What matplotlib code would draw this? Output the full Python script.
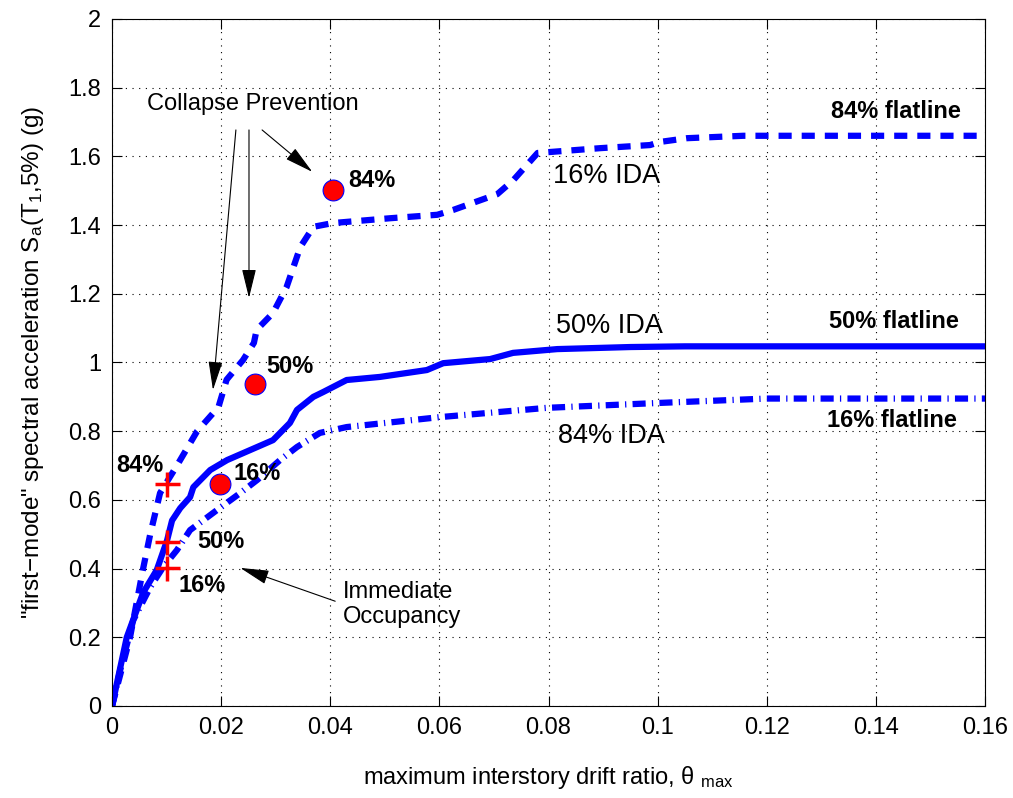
import matplotlib
matplotlib.use('Agg')
import matplotlib.pyplot as plt

plt.rcParams['font.family'] = ['Liberation Sans', 'DejaVu Sans']
plt.rcParams['mathtext.fontset'] = 'custom'
plt.rcParams['mathtext.rm'] = 'Liberation Sans'
plt.rcParams['mathtext.it'] = 'Liberation Sans'
plt.rcParams['mathtext.default'] = 'regular'

# 16% IDA (upper dashed)
x16 = [0, 0.0033, 0.0057, 0.007, 0.0088, 0.0119, 0.0156, 0.0195, 0.021, 0.024, 0.026, 0.0265,
       0.0295, 0.032, 0.0345, 0.0369, 0.0405, 0.051, 0.0596, 0.0625, 0.0706, 0.0735, 0.078,
       0.0895, 0.0986, 0.1004, 0.1054, 0.1157, 0.16]
y16 = [0, 0.2, 0.4, 0.5, 0.62, 0.7, 0.8, 0.87, 0.95, 1.007, 1.057, 1.095,
       1.144, 1.22, 1.336, 1.395, 1.406, 1.42, 1.43, 1.444, 1.49, 1.53, 1.61,
       1.624, 1.633, 1.642, 1.653, 1.66, 1.66]

# 50% IDA (solid)
x50 = [0, 0.0027, 0.0057, 0.0082, 0.0101, 0.011, 0.0125, 0.0143, 0.0149, 0.018, 0.0211,
       0.0253, 0.0295, 0.0326, 0.0339, 0.0369, 0.0387, 0.043, 0.0491, 0.0577, 0.0607,
       0.0693, 0.0735, 0.0816, 0.095, 0.105, 0.16]
y50 = [0, 0.2, 0.33, 0.396, 0.483, 0.54, 0.576, 0.608, 0.637, 0.687, 0.716,
       0.745, 0.774, 0.824, 0.862, 0.9, 0.914, 0.949, 0.958, 0.978, 0.998,
       1.01, 1.028, 1.039, 1.045, 1.047, 1.047]

# 84% IDA (dash-dot)
x84 = [0, 0.0015, 0.0039, 0.007, 0.0094, 0.0119, 0.0143, 0.0192, 0.0235, 0.0266, 0.0308,
       0.0339, 0.0381, 0.043, 0.0601, 0.0797, 0.0999, 0.12, 0.16]
y84 = [0, 0.105, 0.25, 0.346, 0.405, 0.454, 0.512, 0.57, 0.62, 0.658, 0.716,
       0.754, 0.795, 0.812, 0.841, 0.868, 0.882, 0.895, 0.895]

# collapse prevention (circles) and immediate occupancy (crosses)
cp_x = [0.0198, 0.0262, 0.0405]
cp_y = [0.645, 0.937, 1.503]
cp_lab = ['16%', '50%', '84%']
io_x = [0.01, 0.01, 0.01]
io_y = [0.402, 0.478, 0.645]
io_lab = ['16%', '50%', '84%']

xticks = [0, 0.02, 0.04, 0.06, 0.08, 0.1, 0.12, 0.14, 0.16]
xtick_lab = ['0', '0.02', '0.04', '0.06', '0.08', '0.1', '0.12', '0.14', '0.16']
yticks = [0, 0.2, 0.4, 0.6, 0.8, 1, 1.2, 1.4, 1.6, 1.8, 2]
ytick_lab = ['0', '0.2', '0.4', '0.6', '0.8', '1', '1.2', '1.4', '1.6', '1.8', '2']

fig = plt.figure(figsize=(10.13, 7.98), dpi=100)
ax = fig.add_axes([0.1106, 0.1153, 0.8618, 0.8609])

ax.plot(x16, y16, '--', color='blue', lw=4.5, dashes=(2.1, 1.6))
ax.plot(x50, y50, '-', color='blue', lw=4.5)
ax.plot(x84, y84, '-.', color='blue', lw=4.5, dashes=(2.1, 1.0, 0.2, 1.0))

ax.plot(cp_x, cp_y, 'o', ms=15, mfc='red', mec='blue', mew=0.8)
ax.plot(io_x, io_y, '+', ms=18, color='red', mew=2.5)

ax.set_xlim(0, 0.16)
ax.set_ylim(0, 2)
ax.set_xticks(xticks)
ax.set_xticklabels(xtick_lab)
ax.set_yticks(yticks)
ax.set_yticklabels(ytick_lab)
ax.tick_params(direction='in', labelsize=17, length=7, top=True, right=True, pad=8)
ax.grid(True, linestyle=(0, (1, 5)), color='black', lw=0.8)

ax.set_xlabel('maximum interstory drift ratio, θ $_{max}$', fontsize=17, labelpad=18)
ax.set_ylabel('"first−mode" spectral acceleration S$_a$(T$_1$,5%) (g)', fontsize=17.5, labelpad=16)

bold = dict(fontsize=17, fontweight='bold', va='baseline')
ax.text(0.0433, 1.511, cp_lab[2], **bold)
ax.text(0.0282, 0.969, cp_lab[1], **bold)
ax.text(0.0222, 0.658, cp_lab[0], **bold)
ax.text(0.0008, 0.681, io_lab[2], **bold)
ax.text(0.0156, 0.46, io_lab[1], **bold)
ax.text(0.0121, 0.332, io_lab[0], **bold)

ax.text(0.1556, 1.712, '84% flatline', ha='right', **bold)
ax.text(0.1552, 1.100, '50% flatline', ha='right', **bold)
ax.text(0.1549, 0.812, '16% flatline', ha='right', **bold)

ax.text(0.0808, 1.523, '16% IDA', fontsize=19.5, va='baseline')
ax.text(0.0814, 1.086, '50% IDA', fontsize=19.5, va='baseline')
ax.text(0.0818, 0.766, '84% IDA', fontsize=19.5, va='baseline')

ax.text(0.0064, 1.735, 'Collapse Prevention', fontsize=17, va='baseline')
arw = dict(arrowstyle='-|>,head_length=0.9,head_width=0.22', color='black', lw=0.8,
           mutation_scale=20, shrinkA=0, shrinkB=0)
ax.annotate('', xy=(0.0185, 0.92), xytext=(0.0227, 1.677), arrowprops=arw)
ax.annotate('', xy=(0.0251, 1.188), xytext=(0.0251, 1.677), arrowprops=arw)
ax.annotate('', xy=(0.0367, 1.555), xytext=(0.0275, 1.677), arrowprops=arw)

ax.text(0.0423, 0.314, 'Immediate', fontsize=17, va='baseline')
ax.text(0.0423, 0.242, 'Occupancy', fontsize=17, va='baseline')
ax.annotate('', xy=(0.0235, 0.402), xytext=(0.0409, 0.305), arrowprops=arw)

fig.savefig('out.png', dpi=100)
